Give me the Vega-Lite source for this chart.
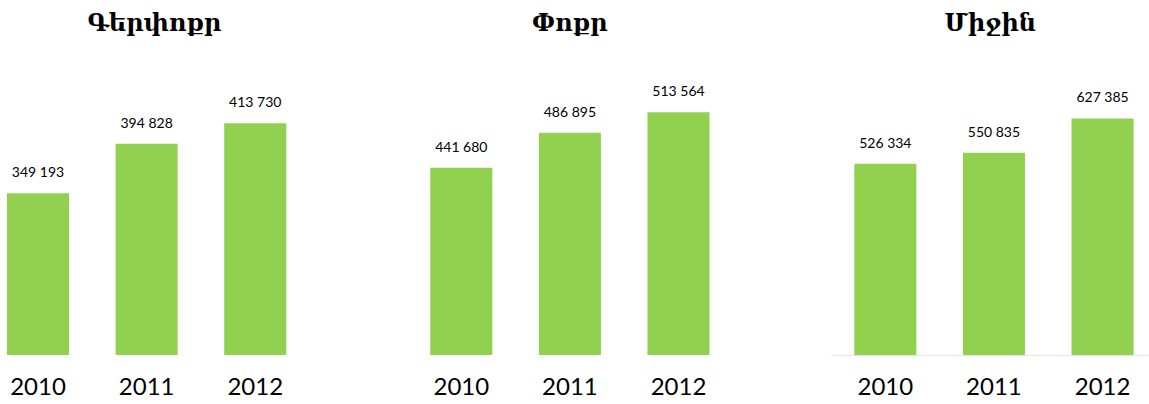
{
  "$schema": "https://vega.github.io/schema/vega-lite/v6.json",
  "padding": {"top": 12, "left": 0, "right": 0, "bottom": 0},
  "spacing": 98,
  "data": {"values": [
    {"group": "Գերփոքր", "year": "2010", "value": 349193},
    {"group": "Գերփոքր", "year": "2011", "value": 394828},
    {"group": "Գերփոքր", "year": "2012", "value": 413730},
    {"group": "Փոքր", "year": "2010", "value": 441680},
    {"group": "Փոքր", "year": "2011", "value": 486895},
    {"group": "Փոքր", "year": "2012", "value": 513564},
    {"group": "Միջին", "year": "2010", "value": 526334},
    {"group": "Միջին", "year": "2011", "value": 550835},
    {"group": "Միջին", "year": "2012", "value": 627385}
  ]},
  "config": {
    "view": {"stroke": null},
    "locale": {"number": {"decimal": ",", "thousands": " ", "grouping": [3], "currency": ["", ""]}},
    "title": {"font": "DejaVu Serif", "fontSize": 24, "fontWeight": "bold", "color": "#000000", "anchor": "middle", "offset": 48},
    "axisX": {"title": null, "labelAngle": 0, "ticks": false, "domain": false, "labelFont": "Lato", "labelFontSize": 24, "labelColor": "#000000", "labelPadding": 20, "grid": false},
    "axisY": {"grid": false}
  },
  "hconcat": [
    {
      "title": "Գերփոքր",
      "width": 308.8,
      "height": 271,
      "transform": [{"filter": "datum.group === 'Գերփոքր'"}],
      "encoding": {
        "x": {"field": "year", "type": "nominal", "scale": {"paddingInner": 0.4286, "paddingOuter": 0.136, "align": 0.237}},
        "y": {"field": "value", "type": "quantitative", "scale": {"domain": [200000, 450000], "zero": false, "nice": false}, "axis": null}
      },
      "layer": [
        {"mark": {"type": "bar", "color": "#92d050", "clip": true}},
        {"mark": {"type": "text", "font": "Lato", "fontSize": 14, "color": "#000000", "baseline": "alphabetic", "dy": -16}, "encoding": {"text": {"field": "value", "type": "quantitative", "format": ",d"}}}
      ]
    },
    {
      "title": "Փոքր",
      "width": 325.8,
      "height": 271,
      "transform": [{"filter": "datum.group === 'Փոքր'"}],
      "encoding": {
        "x": {"field": "year", "type": "nominal", "scale": {"paddingInner": 0.4286, "paddingOuter": 0.2143, "align": 0.5}},
        "y": {"field": "value", "type": "quantitative", "scale": {"domain": [200000, 550000], "zero": false, "nice": false}, "axis": null}
      },
      "layer": [
        {"mark": {"type": "bar", "color": "#92d050", "clip": true}},
        {"mark": {"type": "text", "font": "Lato", "fontSize": 14, "color": "#000000", "baseline": "alphabetic", "dy": -16}, "encoding": {"text": {"field": "value", "type": "quantitative", "format": ",d"}}}
      ]
    },
    {
      "title": "Միջին",
      "width": 318.6,
      "height": 271,
      "transform": [{"filter": "datum.group === 'Միջին'"}],
      "encoding": {
        "x": {"field": "year", "type": "nominal", "scale": {"paddingInner": 0.4286, "paddingOuter": 0.181, "align": 0.593}, "axis": {"domain": true, "domainColor": "#e6e6e6", "domainWidth": 1}},
        "y": {"field": "value", "type": "quantitative", "scale": {"domain": [100000, 704000], "zero": false, "nice": false}, "axis": null}
      },
      "layer": [
        {"mark": {"type": "bar", "color": "#92d050", "clip": true}},
        {"mark": {"type": "text", "font": "Lato", "fontSize": 14, "color": "#000000", "baseline": "alphabetic", "dy": -16}, "encoding": {"text": {"field": "value", "type": "quantitative", "format": ",d"}}}
      ]
    }
  ]
}
